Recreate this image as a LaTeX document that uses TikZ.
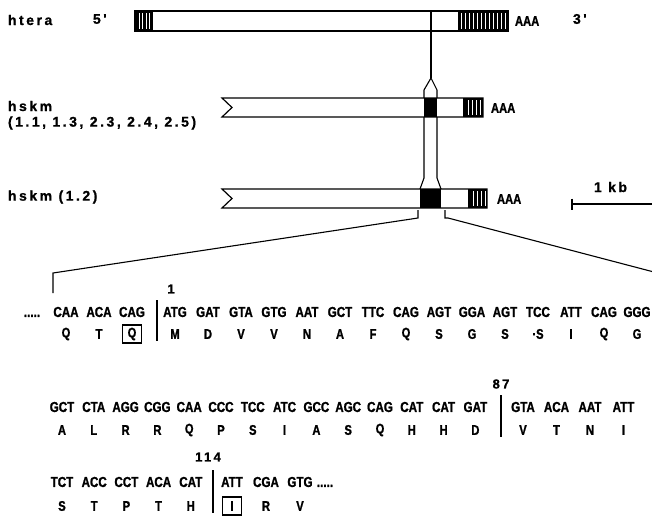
\documentclass[tikz,border=0pt]{standalone}
\usepackage{fontspec}
\setmainfont{Liberation Sans}
\newfontfamily\seqfont[FakeStretch=0.8, FakeBold=1.2]{Liberation Sans}
\newfontfamily\labfont[LetterSpace=18, FakeBold=1]{Liberation Sans}
\usetikzlibrary{calc}

\begin{document}
\begin{tikzpicture}[x=1pt, y=-1pt,
  every node/.style={inner sep=0pt, outer sep=0pt},
  lab/.style={anchor=west, font=\labfont\bfseries\fontsize{14}{16}\selectfont},
  tag/.style={anchor=west, font=\seqfont\bfseries\fontsize{14}{16}\selectfont},
  codon/.style={font=\seqfont\bfseries\fontsize{14.5}{16}\selectfont},
  res/.style={font=\seqfont\bfseries\fontsize{14}{16}\selectfont},
  resnum/.style={font=\labfont\bfseries\fontsize{13}{15}\selectfont},
  gene/.style={draw, line width=1.2pt},
  exon/.style={fill=black, minimum height=19pt},
  stripe/.style={white, line width=0.7pt},
  link/.style={line width=1.1pt},
  junc/.style={line width=2.6pt},
  boxed/.style={draw, line width=1.4pt, minimum width=19pt, minimum height=18pt},
  kbar/.style={line width=2pt}
]
\useasboundingbox (0,0) rectangle (652,519);

% transcripts
\fill (135,11) rectangle (153,31);
\foreach \h in {139,142.5,146,149.5} \draw[stripe] (\h,13) -- (\h,29);
\fill (458,11) rectangle (508,31);
\foreach \h in {461,465,...,505} \draw[stripe] (\h,13) -- (\h,29);
\draw[gene] (135,11) rectangle (508,31);

\fill (463,98) rectangle (483,117);
\foreach \h in {468,472,...,480} \draw[stripe] (\h,100) -- (\h,115);
\node[exon, minimum width=13pt] (kex1) at (430.5,107.5) {};
\draw[gene] (232,107.5) -- (222,98) -- (483,98) -- (483,117) -- (222,117) -- cycle;

\fill (468,189) rectangle (487,208);
\foreach \h in {473,477,...,485} \draw[stripe] (\h,191) -- (\h,206);
\node[exon, minimum width=21pt] (kex2) at (430.5,198.5) {};
\draw[gene] (232,198.5) -- (222,189) -- (487,189) -- (487,208) -- (222,208) -- cycle;

\node[lab] (htera) at (8,20) {htera};
\node[lab] (five) at (93,19) {5'};
\node[tag] (pA0) at (515,21) {AAA};
\node[lab] (three) at (573,19) {3'};
\node[lab] (hskm) at (8,106) {hskm};
\node[lab] (clones) at (8,123) {(1.1, 1.3, 2.3, 2.4, 2.5)};
\node[tag] (pA1) at (491,108) {AAA};
\node[lab] (hskmb) at (8,197) {hskm (1.2)};
\node[tag] (pA2) at (497,199) {AAA};

% exon position linking the three transcripts
\coordinate (cut) at (431,11);
\coordinate (tip) at (431,78);
\draw[link] (cut) -- (tip);
\draw[link] (kex1.north west) -- ++(0,-8) -- (tip) -- ($(kex1.north east)+(0,-8)$) -- (kex1.north east);
\draw[link] (kex1.south west) -- ++(0,61) -- (kex2.north west);
\draw[link] (kex1.south east) -- ++(0,61) -- (kex2.north east);

% scale
\coordinate (kb0) at (572,204);
\coordinate (kb1) at (652,204);
\draw[kbar] (kb0) -- (kb1);
\draw[link] ($(kb0)+(0,-5.5)$) -- ($(kb0)+(0,5.5)$);
\node[lab] (kb) at (594,187) {1 kb};

% expansion to sequence
\coordinate (exL) at (53,273);
\coordinate (exR) at (652,271.5);
\draw[link] ($(kex2.south west)+(-2,2)$) -- ++(0,8) -- (exL) -- ++(0,20);
\draw[link] ($(kex2.south east)+(4,2)$) -- ++(0,8) -- ++(3,0) -- (exR);

% sequence, row 1
\node[codon] (lead) at (32,312) {\vphantom{A}.....};
\foreach \x/\c/\r [count=\i] in {66/CAA/Q, 99/ACA/T, 132/CAG/Q}{
  \node[codon] (pc\i) at (\x,312) {\c};
  \node[res] (pr\i) at (\x,334) {\r};
}
\node[boxed] (qbox) at (pr3) {};
\coordinate (j1a) at (157,300);
\coordinate (j1b) at (157,341);
\draw[junc] (j1a) -- (j1b);
\node[resnum] (n1) at (171,289) {1};
\foreach \c/\r [count=\i] in {ATG/M, GAT/D, GTA/V, GTG/V, AAT/N, GCT/A, TTC/F, CAG/Q,
    AGT/S, GGA/G, AGT/S, TCC/·S, ATT/I, CAG/Q, GGG/G}{
  \node[codon] (ac\i) at ({175+33*(\i-1)},312) {\c};
  \node[res] (ar\i) at ({175+33*(\i-1)},334) {\r};
}

% row 2
\foreach \c/\r [count=\i] in {GCT/A, CTA/L, AGG/R, CGG/R, CAA/Q, CCC/P, TCC/S, ATC/I,
    GCC/A, AGC/S, CAG/Q, CAT/H, CAT/H, GAT/D}{
  \node[codon] (bc\i) at ({62+31.8*(\i-1)},407) {\c};
  \node[res] (br\i) at ({62+31.8*(\i-1)},430) {\r};
}
\coordinate (j2a) at (501,395);
\coordinate (j2b) at (501,437);
\draw[junc] (j2a) -- (j2b);
\node[resnum] (n87) at (501,384) {87};
\foreach \c/\r [count=\i] in {GTA/V, ACA/T, AAT/N, ATT/I}{
  \node[codon] (cc\i) at ({523+33.5*(\i-1)},407) {\c};
  \node[res] (cr\i) at ({523+33.5*(\i-1)},430) {\r};
}

% row 3
\foreach \c/\r [count=\i] in {TCT/S, ACC/T, CCT/P, ACA/T, CAT/H}{
  \node[codon] (dc\i) at ({62+32.2*(\i-1)},482) {\c};
  \node[res] (dr\i) at ({62+32.2*(\i-1)},506) {\r};
}
\coordinate (j3a) at (213,470);
\coordinate (j3b) at (213,513);
\draw[junc] (j3a) -- (j3b);
\node[resnum] (n114) at (208,457) {114};
\foreach \c/\r [count=\i] in {ATT/I, CGA/R, GTG/V}{
  \node[codon] (ec\i) at ({232+34*(\i-1)},482) {\c};
  \node[res] (er\i) at ({232+34*(\i-1)},506) {\r};
}
\node[boxed] (ibox) at (er1) {};
\node[codon] (trail) at (325,482) {\vphantom{A}.....};
\end{tikzpicture}
\end{document}
